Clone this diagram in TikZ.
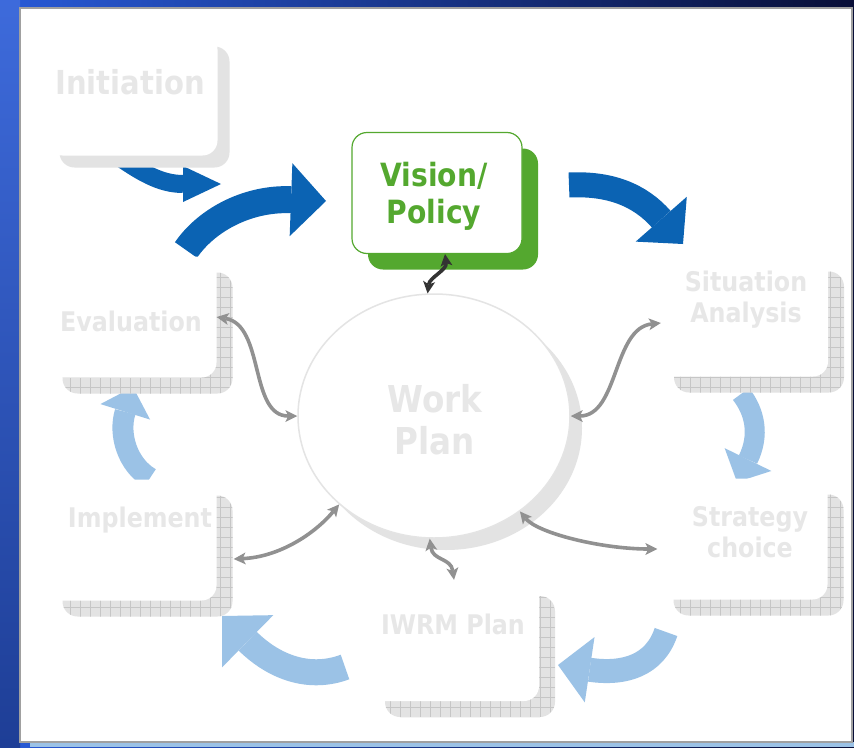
\documentclass[tikz,border=0pt]{standalone}
\usepackage{fontspec}
\usetikzlibrary{arrows.meta, shapes.geometric, shadows, patterns.meta, calc}
\newfontfamily\diagfont{DejaVu Sans}[FakeStretch=0.88]
\definecolor{flowblue}{RGB}{11,99,179}
\definecolor{cyclelight}{RGB}{155,194,230}
\definecolor{linkgray}{RGB}{145,145,145}
\definecolor{linkdark}{RGB}{51,51,51}
\definecolor{faint}{RGB}{231,231,231}
\definecolor{shadowgray}{RGB}{227,227,227}
\definecolor{gridline}{RGB}{198,198,198}
\definecolor{polgreen}{RGB}{84,168,47}
\definecolor{ringgray}{RGB}{228,228,228}
\definecolor{panelgray}{RGB}{160,160,160}
\definecolor{deskblue}{RGB}{40,90,215}
\definecolor{desknavy}{RGB}{8,14,55}
\definecolor{deskside}{RGB}{30,62,150}
\tikzstyle{box} = [rectangle, rounded corners=15pt, minimum width=170pt, minimum height=121pt, fill=white, inner sep=0pt]
\tikzstyle{startstage} = [box, general shadow={fill=shadowgray, shadow xshift=12pt, shadow yshift=-12pt}]
\tikzstyle{stage} = [box, general shadow={fill=shadowgray, shadow xshift=16pt, shadow yshift=-16pt}, general shadow={pattern={Hatch[angle=0,distance=10pt,line width=0.6pt]}, pattern color=gridline, shadow xshift=16pt, shadow yshift=-16pt}]
\tikzstyle{policy} = [box, draw=polgreen, line width=1.2pt, general shadow={fill=polgreen, shadow xshift=16pt, shadow yshift=-16pt}]
\tikzstyle{plan} = [ellipse, minimum width=272pt, minimum height=244pt, inner sep=0pt, fill=white, draw=ringgray, line width=1.5pt, general shadow={fill=shadowgray, shadow xshift=12pt, shadow yshift=-12pt}]
\tikzstyle{stagetext} = [text=faint, font=\diagfont\bfseries\fontsize{27}{31}\selectfont, align=center, inner sep=0pt]
\tikzstyle{flow} = [draw=flowblue]
\tikzstyle{loopflow} = [draw=cyclelight]
\tikzstyle{link} = [line width=3.6pt, draw=linkgray, {Stealth[length=12pt,width=12pt,inset=3pt,line width=0pt]}-{Stealth[length=12pt,width=12pt,inset=3pt,line width=0pt]}]
\pgfdeclarelayer{back}
\pgfdeclarelayer{under}
\pgfsetlayers{back,under,main}

\begin{document}
\begin{tikzpicture}[x=1pt, y=-1pt]
	\useasboundingbox (0,0) rectangle (854,747);
	\begin{pgfonlayer}{back}
		\shade [left color=deskblue, right color=desknavy] (0,0) rectangle (854,747);
		\shade [top color=deskblue!90!white, bottom color=deskside] (0,0) rectangle (20,747);
		\fill [cyclelight] (30,742) rectangle (854,747);
		\filldraw [fill=white, draw=panelgray, line width=2pt] (20,8) rectangle (852,742);
	\end{pgfonlayer}

	\node(init) [startstage] at (132.5,95) {};
	\node(vis) [policy] at (437,193) {};
	\node(sit) [stage] at (743,316) {};
	\node(strat) [stage] at (742.5,539) {};
	\node(iwrm) [stage] at (454,640.5) {};
	\node(impl) [stage] at (131.5,540) {};
	\node(eval) [stage] at (131.5,317) {};
	\node(wp) [plan] at (434,416) {};

	\node(t0) [stagetext, anchor=base, font=\diagfont\bfseries\fontsize{33}{37}\selectfont] at (130,94) {Initiation};
	\node(t1) [stagetext, text=polgreen, font=\diagfont\bfseries\fontsize{32}{37}\selectfont] at (434,196) {Vision/\\Policy};
	\node(t2) [stagetext] at (746,300) {Situation\\Analysis};
	\node(t3) [stagetext] at (750,532) {Strategy\\choice};
	\node(t4) [stagetext, anchor=base] at (453,634) {IWRM Plan};
	\node(t5) [stagetext, anchor=base] at (140,527) {Implement};
	\node(t6) [stagetext, anchor=base] at (131,331) {Evaluation};
	\node(t7) [stagetext, font=\diagfont\bfseries\fontsize{37}{42}\selectfont] at (435,420) {Work\\Plan};

	\coordinate (f0a) at (112,152);
	\coordinate (f0b) at (221,184);
	\coordinate (f1a) at (186,250);
	\coordinate (f1b) at (326,201);
	\coordinate (f2a) at (569,185);
	\coordinate (f2b) at (683,244);
	\coordinate (f3a) at (741,394);
	\coordinate (f3b) at (737,482);
	\coordinate (f4a) at (666,632);
	\coordinate (f4b) at (558,665);
	\coordinate (f5a) at (345,667);
	\coordinate (f5b) at (222,616);
	\coordinate (f6a) at (150,478);
	\coordinate (f6b) at (133,387);

	\begin{pgfonlayer}{under}
		\draw [flow, line width=18pt, -{Triangle[width=36pt,length=38pt,line width=0pt]}] (f0a) .. controls +(28,20) and +(-61,0) .. (f0b);
		\draw [flow, line width=27pt, -{Triangle[width=73pt,length=35pt,line width=0pt]}] (f1a) .. controls +(19,-28) and +(-81,-3) .. (f1b);
		\draw [flow, line width=25pt, -{Triangle[width=68pt,length=33pt,line width=0pt]}] (f2a) .. controls +(41,-2) and +(-43,-49) .. (f2b);
		\draw [loopflow, line width=20pt, -{Triangle[width=52pt,length=25pt,line width=0pt]}] (f3a) .. controls +(14,18) and +(23,-47) .. (f3b);
		\draw [loopflow, line width=24pt, -{Triangle[width=66pt,length=32pt,line width=0pt]}] (f4a) .. controls +(-11,33) and +(67,10) .. (f4b);
		\draw [loopflow, line width=26pt, -{Triangle[width=73pt,length=36pt,line width=0pt]}] (f5a) .. controls +(-35,13) and +(53,52) .. (f5b);
		\draw [loopflow, line width=21pt, -{Triangle[width=52pt,length=26pt,line width=0pt]}] (f6a) .. controls +(-22,-13) and +(-15,48) .. (f6b);
	\end{pgfonlayer}

	\draw [link] (eval.east) .. controls +(48,8) and +(-48,0) .. (wp.west);
	\draw [link] ($(sit.west)+(3,7)$) .. controls +(-48,5) and +(48,0) .. (wp.east);
	\draw [link] ($(impl.east)+(17,19)$) .. controls +(45,-2) and +(-25,30) .. (wp.223);
	\draw [link] (wp.312) .. controls +(18,22) and +(-55,0) .. ($(strat.west)+(0,10)$);
	\draw [link] (wp.268) .. controls +(3,22) and +(-3,-22) .. (iwrm.north);
	\draw [link, draw=linkdark] ($(vis.south)+(8,0)$) .. controls +(2,16) and +(2,-16) .. (wp.93);
\end{tikzpicture}
\end{document}
